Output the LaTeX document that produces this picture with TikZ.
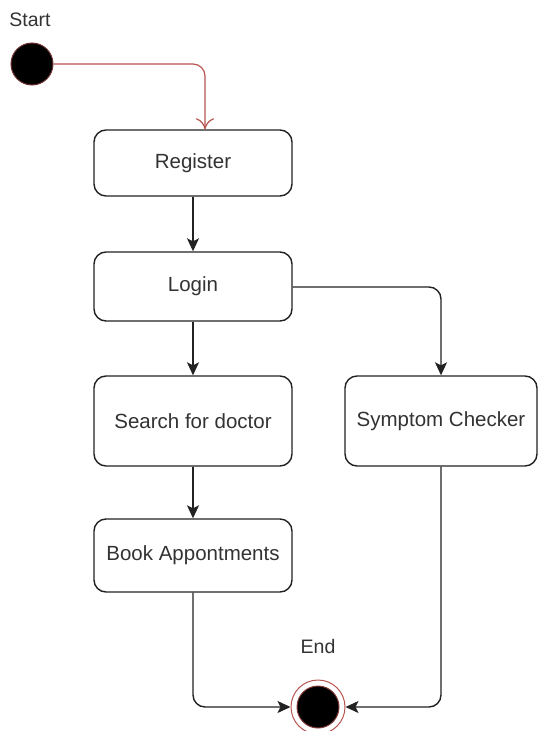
\documentclass[tikz,border=0pt]{standalone}
\usepackage{fontspec}
\setmainfont{Liberation Sans}
\usetikzlibrary{arrows.meta}
\definecolor{redline}{HTML}{B85450}
\definecolor{edge}{HTML}{222222}
\definecolor{txt}{HTML}{333333}
\begin{document}
\begin{tikzpicture}[x=1pt,y=-1pt,
  box/.style={draw=edge,line width=1.4pt,rounded corners=12pt,fill=white,
    minimum width=198pt,inner sep=0pt,font=\fontsize{20.5}{23}\selectfont,text=txt},
  flow/.style={draw=edge,line width=1.4pt,-{Stealth[length=13pt,width=12pt,inset=3pt]},rounded corners=12pt},
  lbl/.style={font=\fontsize{19.5}{22}\selectfont,text=txt}]
\useasboundingbox (0,0) rectangle (539,731);
\node[lbl] (starttxt) at (30,20) {Start};
\node[circle,fill=black,draw=redline!60!black,line width=1pt,minimum size=42pt,inner sep=0pt] (start) at (32,64) {};
\node[box,minimum height=66pt] (reg) at (193,163) {Register};
\node[box,minimum height=69pt] (login) at (193,286.5) {Login};
\node[box,minimum height=90pt] (search) at (193,421) {Search for doctor};
\node[box,minimum width=192pt,minimum height=90pt] (symp) at (441,421) {Symptom Checker};
\node[box,minimum height=73pt] (book) at (193,555.5) {Book Appontments};
\node[lbl] (endtxt) at (318,647) {End};
\node[circle,draw=redline,line width=1pt,minimum size=54pt,inner sep=0pt] (end) at (318,707) {};
\node[circle,fill=black,draw=redline!70!black,line width=1pt,minimum size=42pt,inner sep=0pt] (endin) at (318,707) {};
\coordinate (c1) at (205,64);
\draw[redline,line width=1.2pt,rounded corners=12pt,-{To[length=11pt,width=18pt]}] (start.east) -- (c1) -- (c1 |- reg.north);
\draw[flow] (reg.south) -- (login.north);
\draw[flow] (login.south) -- (search.north);
\draw[flow] (search.south) -- (book.north);
\draw[flow] (login.east |- 0,287) -- (symp.north |- 0,287) -- (symp.north);
\draw[flow] (book.south) -- (book.south |- end.west) -- (end.west);
\draw[flow] (symp.south) -- (symp.south |- end.east) -- (end.east);
\end{tikzpicture}
\end{document}
